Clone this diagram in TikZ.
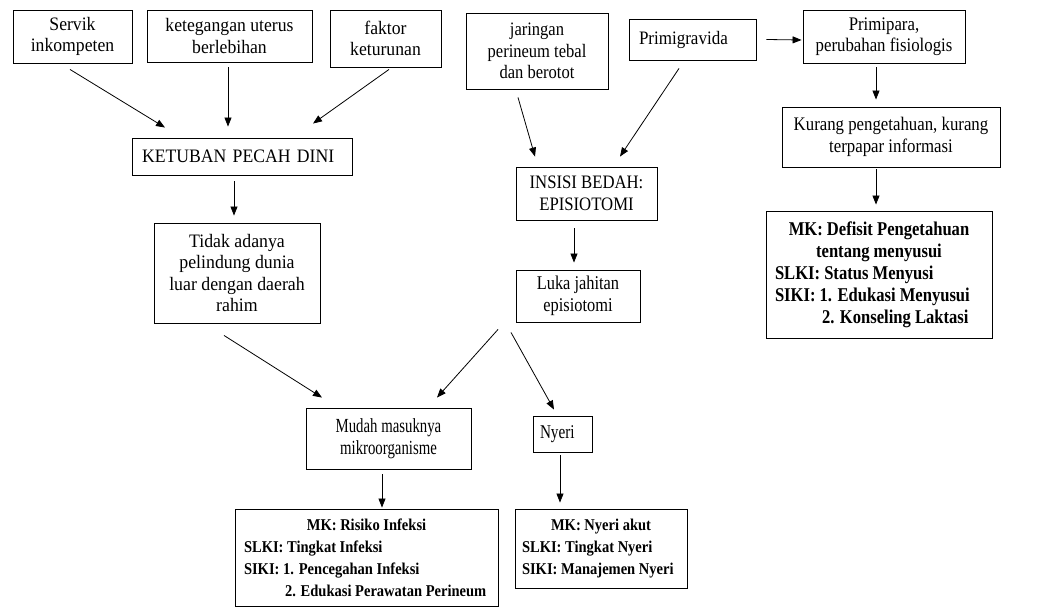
\documentclass[tikz,border=0pt]{standalone}
\usepackage{fontspec}
\setmainfont{Liberation Serif}
\usetikzlibrary{arrows.meta}
\tikzset{
box/.style 2 args={draw,line width=0.9pt,align=center,inner sep=0pt,font=\fontsize{#1}{21.5}\selectfont\addfontfeatures{FakeStretch=#2}},
mkbox/.style 2 args={draw,line width=0.9pt,align=flush left,inner xsep=9pt,inner ysep=0pt,font=\fontsize{#1}{22}\selectfont\bfseries\addfontfeatures{FakeStretch=#2}},
arr/.style={-{Triangle[length=9pt,width=7pt]},line width=0.8pt}
}
\begin{document}
\begin{tikzpicture}[x=1pt,y=-1pt]
\useasboundingbox(0,0)rectangle(1041,607);
\node[box={19}{0.93},minimum width=119pt,minimum height=53pt](servik)at(72.5,36.5){Servik\\inkompeten};
\node[box={19}{0.93},minimum width=165pt,minimum height=52pt](uterus)at(229.5,36){ketegangan uterus\\berlebihan};
\node[box={19}{0.93},minimum width=111pt,minimum height=57pt](faktor)at(385.5,38.5){faktor\\keturunan};
\node[box={19}{0.93},align=left,inner xsep=10pt,text width=200pt,minimum height=37pt](kpd)at(242,156.5){KETUBAN PECAH DINI};
\node[box={19}{0.937},minimum width=166pt,minimum height=100pt](tidak)at(237,273){Tidak adanya\\pelindung dunia\\luar dengan daerah\\rahim};
\node[box={19}{0.87},minimum width=142pt,minimum height=76pt](jaringan)at(537,51){jaringan\\perineum tebal\\dan berotot};
\node[box={19}{0.895},align=left,inner xsep=10pt,text width=107pt,minimum height=41pt](gravida)at(692.5,39.5){Primigravida};
\node[box={19.2}{0.875},minimum width=162pt,minimum height=53pt](para)at(884,36.5){Primipara,\\perubahan fisiologis};
\node[box={19.2}{0.875},minimum width=218pt,minimum height=60pt](kurang)at(891,137){Kurang pengetahuan, kurang\\terpapar informasi};
\node[mkbox={19.5}{0.85},text width=208pt,minimum height=127pt](mkdef)at(879,274.5){\makebox[\linewidth]{MK: Defisit Pengetahuan}\\\makebox[\linewidth]{tentang menyusui}\\SLKI: Status Menyusi\\SIKI: 1. Edukasi Menyusui\\\hspace*{47pt}2. Konseling Laktasi};
\node[box={19}{0.88},minimum width=141pt,minimum height=53pt](insisi)at(586.5,193.5){INSISI BEDAH:\\EPISIOTOMI};
\node[box={19.5}{0.84},minimum width=124pt,minimum height=52pt](luka)at(578,296){Luka jahitan\\episiotomi};
\node[box={20}{0.74},minimum width=165pt,minimum height=61pt](mudah)at(388.5,438.5){Mudah masuknya\\mikroorganisme};
\node[box={19.5}{0.78},align=left,inner xsep=7pt,text width=45pt,minimum height=36pt](nyeri)at(562.5,434){Nyeri};
\node[mkbox={16.5}{0.88},text width=245pt,minimum height=97pt](mkinf)at(366.5,557.5){\makebox[\linewidth]{MK: Risiko Infeksi}\\SLKI: Tingkat Infeksi\\SIKI: 1. Pencegahan Infeksi\\\hspace*{41pt}\mbox{2. Edukasi Perawatan Perineum}};
\node[mkbox={16.5}{0.88},inner xsep=7pt,text width=158pt,minimum height=79pt](mknyeri)at(601,548.5){\makebox[\linewidth]{MK: Nyeri akut}\\SLKI: Tingkat Nyeri\\\mbox{SIKI: Manajemen Nyeri}};
\draw[arr]([xshift=-2.5pt,yshift=-6pt]servik.south)--([xshift=-77pt,yshift=10pt]kpd.north);
\draw[arr]([xshift=-1.5pt,yshift=-5pt]uterus.south)--([xshift=-14pt,yshift=11pt]kpd.north);
\draw[arr]([xshift=3.5pt,yshift=-2pt]faktor.south)--([xshift=71pt,yshift=14pt]kpd.north);
\draw[arr]([xshift=-8pt,yshift=-6pt]kpd.south)--([xshift=-3pt,yshift=7pt]tidak.north);
\draw[arr]([xshift=-13pt,yshift=-12pt]tidak.south)--([xshift=-66.5pt,yshift=10pt]mudah.north);
\draw[arr]([xshift=-19pt,yshift=-8pt]jaringan.south)--([xshift=-51.5pt,yshift=10pt]insisi.north);
\draw[arr]([xshift=-13.5pt,yshift=-8pt]gravida.south)--([xshift=33.5pt,yshift=10pt]insisi.north);
\draw[arr]([xshift=10pt]gravida.east)--([xshift=-1pt,yshift=-3.5pt]para.west);
\draw[arr]([xshift=-8pt,yshift=-4pt]para.south)--([xshift=-15pt,yshift=7pt]kurang.north);
\draw[arr]([xshift=-15pt,yshift=-2pt]kurang.south)--([xshift=-3pt,yshift=6pt]mkdef.north);
\draw[arr]([xshift=-12.5pt,yshift=-8pt]insisi.south)--([xshift=-4pt,yshift=7pt]luka.north);
\draw[arr]([xshift=-80pt,yshift=-7pt]luka.south)--([xshift=48.5pt,yshift=10pt]mudah.north);
\draw[arr]([xshift=-67pt,yshift=-10pt]luka.south)--([xshift=-8.5pt,yshift=6pt]nyeri.north);
\draw[arr]([xshift=-6.5pt,yshift=-5pt]mudah.south)--([xshift=15.5pt,yshift=1pt]mkinf.north);
\draw[arr]([xshift=-2.5pt,yshift=-3pt]nyeri.south)--([xshift=-41pt,yshift=6pt]mknyeri.north);
\end{tikzpicture}
\end{document}
